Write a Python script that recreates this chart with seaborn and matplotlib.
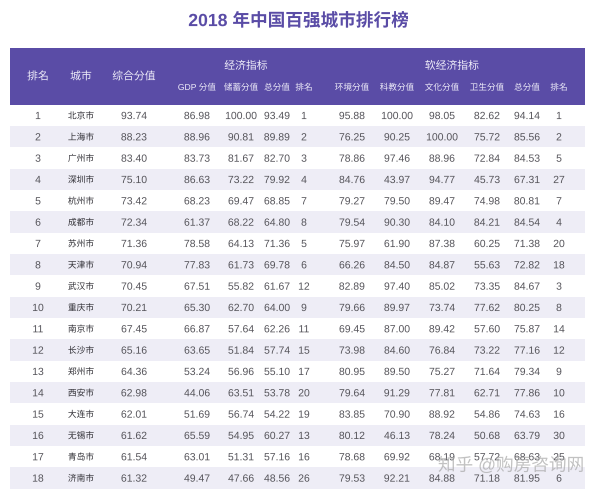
import numpy as np
import pandas as pd
import seaborn as sns
import matplotlib
matplotlib.use("Agg")
import matplotlib.pyplot as plt
from matplotlib import font_manager as fm
from matplotlib import patheffects as pe
from matplotlib.colors import ListedColormap

cjk_names = sorted({f.name for f in fm.fontManager.ttflist if "CJK" in f.name})
cjk_pick = next((n for n in cjk_names if n.endswith("SC")), cjk_names[0] if cjk_names else "Noto Sans CJK SC")
plt.rcParams["font.family"] = ["Liberation Sans", cjk_pick]
plt.rcParams["path.effects"] = [pe.Normal()]

title = "2018 年中国百强城市排行榜"
watermark = "知乎 @购房咨询网"
top_headers = ["排名", "城市", "综合分值"]
group_econ = "经济指标"
group_soft = "软经济指标"
sub_headers = ["GDP 分值", "储蓄分值", "总分值", "排名", "环境分值", "科教分值", "文化分值", "卫生分值", "总分值", "排名"]

ranks = list(range(1, 19))
cities = ["北京市", "上海市", "广州市", "深圳市", "杭州市", "成都市", "苏州市", "天津市", "武汉市",
          "重庆市", "南京市", "长沙市", "郑州市", "西安市", "大连市", "无锡市", "青岛市", "济南市"]
overall = ["93.74", "88.23", "83.40", "75.10", "73.42", "72.34", "71.36", "70.94", "70.45",
           "70.21", "67.45", "65.16", "64.36", "62.98", "62.01", "61.62", "61.54", "61.32"]
gdp = ["86.98", "88.96", "83.73", "86.63", "68.23", "61.37", "78.58", "77.83", "67.51",
       "65.30", "66.87", "63.65", "53.24", "44.06", "51.69", "65.59", "63.01", "49.47"]
savings = ["100.00", "90.81", "81.67", "73.22", "69.47", "68.22", "64.13", "61.73", "55.82",
           "62.70", "57.64", "51.84", "56.96", "63.51", "56.74", "54.95", "51.31", "47.66"]
econ_total = ["93.49", "89.89", "82.70", "79.92", "68.85", "64.80", "71.36", "69.78", "61.67",
              "64.00", "62.26", "57.74", "55.10", "53.78", "54.22", "60.27", "57.16", "48.56"]
econ_rank = [1, 2, 3, 4, 7, 8, 5, 6, 12, 9, 11, 15, 17, 20, 19, 13, 16, 26]
environment = ["95.88", "76.25", "78.86", "84.76", "79.27", "79.54", "75.97", "66.26", "82.89",
               "79.66", "69.45", "73.98", "80.95", "79.64", "83.85", "80.12", "78.68", "79.53"]
education = ["100.00", "90.25", "97.46", "43.97", "79.50", "90.30", "61.90", "84.50", "97.40",
             "89.97", "87.00", "84.60", "89.50", "91.29", "70.90", "46.13", "69.92", "92.21"]
culture = ["98.05", "100.00", "88.96", "94.77", "89.47", "84.10", "87.38", "84.87", "85.02",
           "73.74", "89.42", "76.84", "75.27", "77.81", "88.92", "78.24", "68.19", "84.88"]
health = ["82.62", "75.72", "72.84", "45.73", "74.98", "84.21", "60.25", "55.63", "73.35",
          "77.62", "57.60", "73.22", "71.64", "62.71", "54.86", "50.68", "57.72", "71.18"]
soft_total = ["94.14", "85.56", "84.53", "67.31", "80.81", "84.54", "71.38", "72.82", "84.67",
              "80.25", "75.87", "77.16", "79.34", "77.86", "74.63", "63.79", "68.63", "81.95"]
soft_rank = [1, 2, 5, 27, 7, 4, 20, 18, 3, 8, 14, 12, 9, 10, 16, 30, 25, 6]

table = pd.DataFrame({
    "rank": ranks, "city": cities, "overall": overall, "gdp": gdp, "savings": savings,
    "econ_total": econ_total, "econ_rank": econ_rank, "environment": environment,
    "education": education, "culture": culture, "health": health,
    "soft_total": soft_total, "soft_rank": soft_rank,
})

W, H = 600, 490
LEFT, RIGHT = 10, 585
HEAD_TOP, HEAD_BOT = 47.5, 104.8
BODY_BOT = 488.7
col_px = [38, 81, 134, 197, 241, 277, 304, 352, 397, 442, 487, 527, 559]

HEAD_COLOR = "#5a4ca6"
BAND_COLOR = "#eeedf6"
TEXT_COLOR = "#55545a"
CITY_COLOR = "#2f2e34"
HEAD_TEXT = "#f0eefa"
ROW_PX = (BODY_BOT - HEAD_BOT) / len(ranks)


def frac(px):
    return (px - LEFT) / (RIGHT - LEFT)


fig = plt.figure(figsize=(W / 100, H / 100), dpi=100, facecolor="white")

# body: alternating bands
ax = fig.add_axes([LEFT / W, 1 - BODY_BOT / H, (RIGHT - LEFT) / W, (BODY_BOT - HEAD_BOT) / H])
bands = np.array([[r % 2] for r in range(len(ranks))])
sns.heatmap(bands, ax=ax, cmap=ListedColormap(["white", BAND_COLOR]), vmin=0, vmax=1,
            cbar=False, xticklabels=False, yticklabels=False)
tr = ax.get_yaxis_transform()
for i, row in enumerate(table.itertuples(index=False)):
    for x, value, name in zip(col_px, row, table.columns):
        is_city = name == "city"
        ax.text(frac(x), i + 0.5 + (3.1 if is_city else 3.6) / ROW_PX, str(value), transform=tr,
                ha="center", va="baseline", fontsize=6.3 if is_city else 7.5,
                color=CITY_COLOR if is_city else TEXT_COLOR)

# header block
hx = fig.add_axes([LEFT / W, 1 - HEAD_BOT / H, (RIGHT - LEFT) / W, (HEAD_BOT - HEAD_TOP) / H])
sns.heatmap(np.zeros((1, 1)), ax=hx, cmap=ListedColormap([HEAD_COLOR]), cbar=False,
            xticklabels=False, yticklabels=False)
hx.set_xlim(0, 1)
hx.set_ylim(1, 0)


def hy(px):
    return (px - HEAD_TOP) / (HEAD_BOT - HEAD_TOP)


for x, label in zip(col_px[:3], top_headers):
    hx.text(frac(x), hy(79.5), label, ha="center", va="baseline", fontsize=7.8, color=HEAD_TEXT)
hx.text(frac(246), hy(69), group_econ, ha="center", va="baseline", fontsize=7.8, color=HEAD_TEXT)
hx.text(frac(452), hy(69), group_soft, ha="center", va="baseline", fontsize=7.8, color=HEAD_TEXT)
for x, label in zip(col_px[3:], sub_headers):
    hx.text(frac(x), hy(90), label, ha="center", va="baseline", fontsize=6.2, color=HEAD_TEXT)

fig.text(0.4975, 1 - 21.5 / H, title, ha="center", va="center", fontsize=12.7,
         fontweight="bold", color="#5a4ca6")
fig.text(511 / W, 1 - 466 / H, watermark, ha="center", va="center", fontsize=12.7,
         color="#a8a8a8", alpha=0.7)

fig.savefig("out.png", dpi=100, facecolor="white")
